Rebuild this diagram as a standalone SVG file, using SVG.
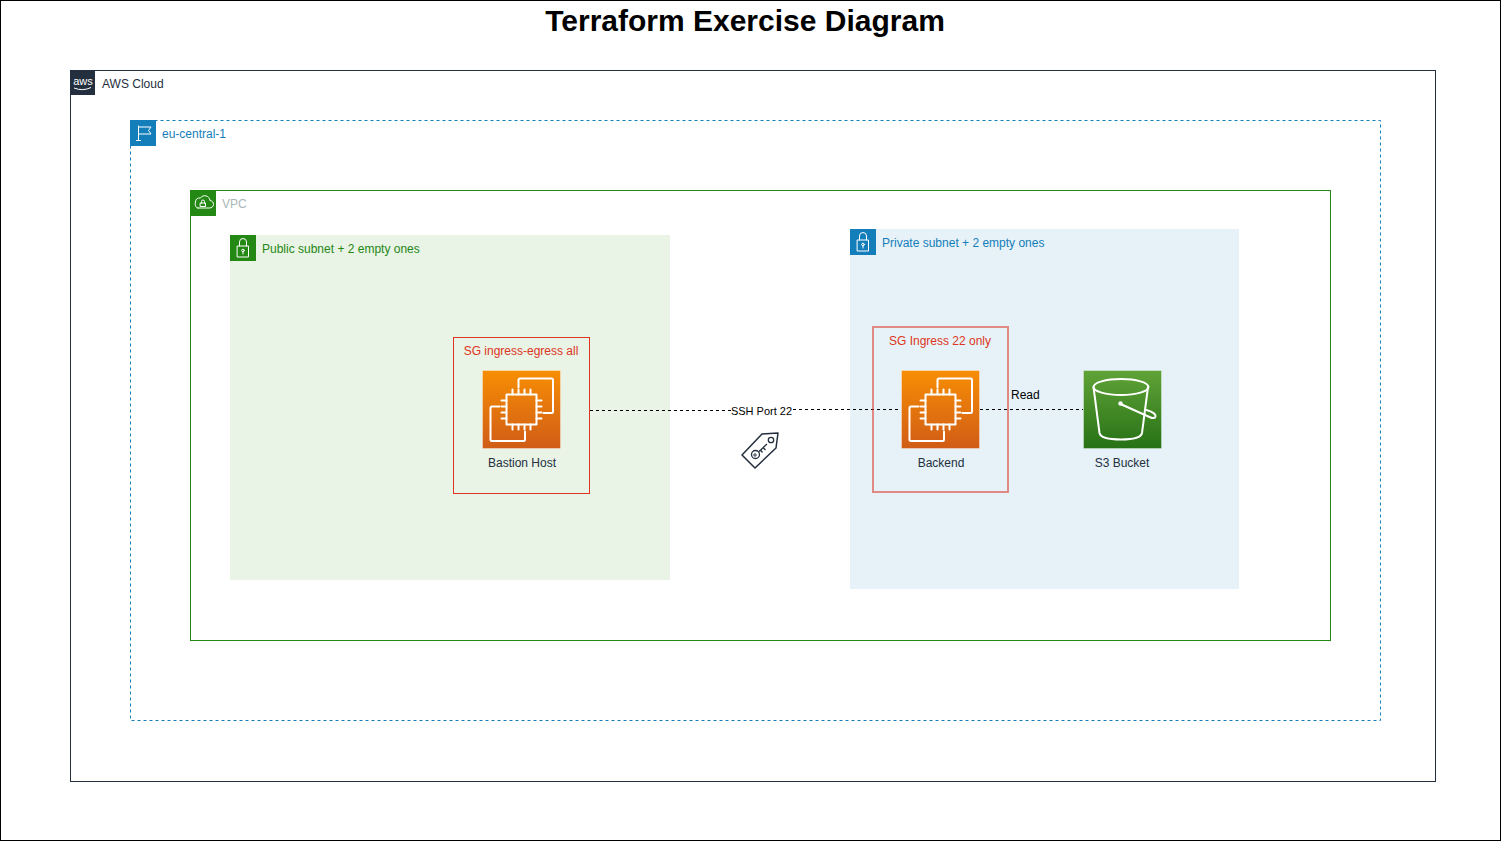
<svg xmlns="http://www.w3.org/2000/svg" width="1501" height="841" viewBox="0 0 1501 841">
<style>
text{font-family:"Liberation Sans",Arial,sans-serif;font-size:12px}
.ic{fill:none;stroke:#fff;stroke-linejoin:round;stroke-linecap:round}
.lbl{fill:#232F3E;text-anchor:middle}
.conn{fill:none;stroke:#000;stroke-dasharray:3 3}
</style>
<defs>
<linearGradient id="org" x1="0" y1="0" x2="0" y2="1"><stop offset="0" stop-color="#F78E04"/><stop offset="1" stop-color="#D05C17"/></linearGradient>
<linearGradient id="grn" x1="0" y1="0" x2="0" y2="1"><stop offset="0" stop-color="#60A337"/><stop offset="1" stop-color="#277116"/></linearGradient>
<g id="ec2">
<rect x="0" y="0" width="78" height="78" fill="url(#org)" stroke="#fff" stroke-opacity=".35"/>
<rect x="24" y="24" width="30" height="30" class="ic" stroke-width="2"/>
<path class="ic" stroke-width="2" d="M30 24v-5M36 24v-5M42 24v-5M48 24v-5M30 54v5M36 54v5M42 54v5M48 54v5M24 30h-5M24 36h-5M24 42h-5M24 48h-5M54 30h5M54 36h5M54 42h5M54 48h5"/>
<path class="ic" stroke-width="2" d="M36 17V9.500a1.500 1.500 0 0 1 1.500-1.500H69a1.500 1.500 0 0 1 1.500 1.500V41a1.500 1.500 0 0 1-1.500 1.500H61"/>
<path class="ic" stroke-width="2" d="M17 36H9.500A1.500 1.500 0 0 0 8 37.500V69a1.500 1.500 0 0 0 1.500 1.500H41a1.500 1.500 0 0 0 1.500-1.500V61"/>
</g>
</defs>

<rect id="frame" x="0.500" y="0.500" width="1500" height="840" fill="#fff" stroke="#000"/>
<text x="745" y="31" text-anchor="middle" style="font-size:30px;font-weight:bold" fill="#000">Terraform Exercise Diagram</text>

<g id="aws-cloud">
<rect x="70.500" y="70.500" width="1365" height="711" fill="none" stroke="#232F3E"/>
<rect x="70" y="70" width="25" height="25" fill="#232F3E"/>
<text x="83" y="85" text-anchor="middle" fill="#fff" style="font-size:11px">aws</text>
<path d="M74 88q9 3.500 17-.5" fill="none" stroke="#fff"/>
<text x="102" y="88" fill="#232F3E">AWS Cloud</text>
</g>

<g id="region">
<rect x="130.500" y="120.500" width="1250" height="600" fill="none" stroke="#147EBA" stroke-dasharray="3 3"/>
<rect x="130" y="120" width="26" height="26" fill="#147EBA"/>
<path class="ic" d="M138.500 126v14.500M136.500 140.500h4M138.500 127h12.500l-2.500 3.500 2.500 3.500h-12.500"/>
<text x="162" y="138" fill="#147EBA">eu-central-1</text>
</g>

<g id="vpc">
<rect x="190.500" y="190.500" width="1140" height="450" fill="none" stroke="#248814"/>
<rect x="190" y="190" width="26" height="26" fill="#248814"/>
<path class="ic" d="M198 208h11.500c5 0 5.500-7 .5-7.500-.5-5-7-6.500-9.500-2.500-3.500-.5-5 1.500-5 4-1 3 .5 6 2.500 6z"/>
<rect x="200.500" y="203" width="5" height="3.500" class="ic"/>
<path class="ic" d="M201.500 203v-1.500a1.500 1.500 0 0 1 3 0V203"/>
<text x="222" y="208" fill="#AAB7B8">VPC</text>
</g>

<g id="public-subnet">
<rect x="230" y="235" width="440" height="345" fill="#E9F3E6"/>
<rect x="230" y="235" width="26" height="26" fill="#248814"/>
<rect x="237.500" y="246" width="11" height="11" class="ic"/>
<path class="ic" d="M239.500 246v-4a3.500 3.500 0 0 1 7 0v4"/>
<circle cx="243" cy="250.500" r="1.300" class="ic"/><path class="ic" d="M243 252v2"/>
<text x="262" y="253" fill="#248814">Public subnet + 2 empty ones</text>
</g>

<g id="private-subnet">
<rect x="850" y="229" width="389" height="360" fill="#E6F2F8"/>
<rect x="850" y="229" width="26" height="26" fill="#147EBA"/>
<rect x="857.500" y="240" width="11" height="11" class="ic"/>
<path class="ic" d="M859.500 240v-4a3.500 3.500 0 0 1 7 0v4"/>
<circle cx="863" cy="244.500" r="1.300" class="ic"/><path class="ic" d="M863 246v2"/>
<text x="882" y="247" fill="#147EBA">Private subnet + 2 empty ones</text>
</g>

<g id="connectors">
<path class="conn" d="M590 410.500H731"/>
<path class="conn" d="M793 409.500H901"/>
<path class="conn" d="M980 409.500H1083"/>
<text x="761.500" y="415" text-anchor="middle" fill="#000" style="font-size:11px">SSH Port 22</text>
<text x="1011" y="399" fill="#000">Read</text>
</g>

<g id="sg-bastion">
<rect x="453.500" y="337.500" width="136" height="156" fill="none" stroke="#DD3522"/>
<text x="521" y="355" text-anchor="middle" fill="#DD3522">SG ingress-egress all</text>
</g>

<g id="sg-backend">
<rect x="873" y="327" width="135" height="165" fill="none" stroke="#DD3522" stroke-width="2" stroke-opacity=".55"/>
<text x="940" y="345" text-anchor="middle" fill="#DD3522">SG Ingress 22 only</text>
</g>

<g id="bastion-host">
<use href="#ec2" x="482.500" y="370.500"/>
<text x="522" y="467" class="lbl">Bastion Host</text>
</g>

<g id="backend">
<use href="#ec2" x="901.500" y="370.500"/>
<text x="941" y="467" class="lbl">Backend</text>
</g>

<g id="s3-bucket">
<rect x="1083.500" y="370.500" width="78" height="78" fill="url(#grn)" stroke="#fff" stroke-opacity=".35"/>
<ellipse cx="1121" cy="387" rx="27.500" ry="8" class="ic" stroke-width="2"/>
<path class="ic" stroke-width="2" d="M1093.500 387l6 46c1 5 11 6.500 21.500 6.500s20-1.500 21-6.500l6-46"/>
<path class="ic" stroke-width="2" d="M1120.500 404l29 13c3 1.500 5.500 1.500 6-.5.500-2.500-4-5-9-6.500"/>
<circle cx="1120.500" cy="403.500" r="2.200" fill="#fff"/>
<text x="1122" y="467" class="lbl">S3 Bucket</text>
</g>

<g id="ssh-key">
<path d="M778 433l-2 15-21 20-13-13 20-21z" fill="none" stroke="#232F3E" stroke-width="1.500" stroke-linejoin="round"/>
<circle cx="771" cy="440" r="2.700" fill="none" stroke="#232F3E" stroke-width="1.300"/>
<circle cx="755.500" cy="454.500" r="4" fill="none" stroke="#232F3E" stroke-width="1.300"/>
<circle cx="755" cy="455" r="1.200" fill="none" stroke="#232F3E"/>
<path d="M759 451.500l8-7.500M763 447.500l2.500 2.500M760.500 450l2 2.500" fill="none" stroke="#232F3E" stroke-width="1.300"/>
</g>
</svg>
